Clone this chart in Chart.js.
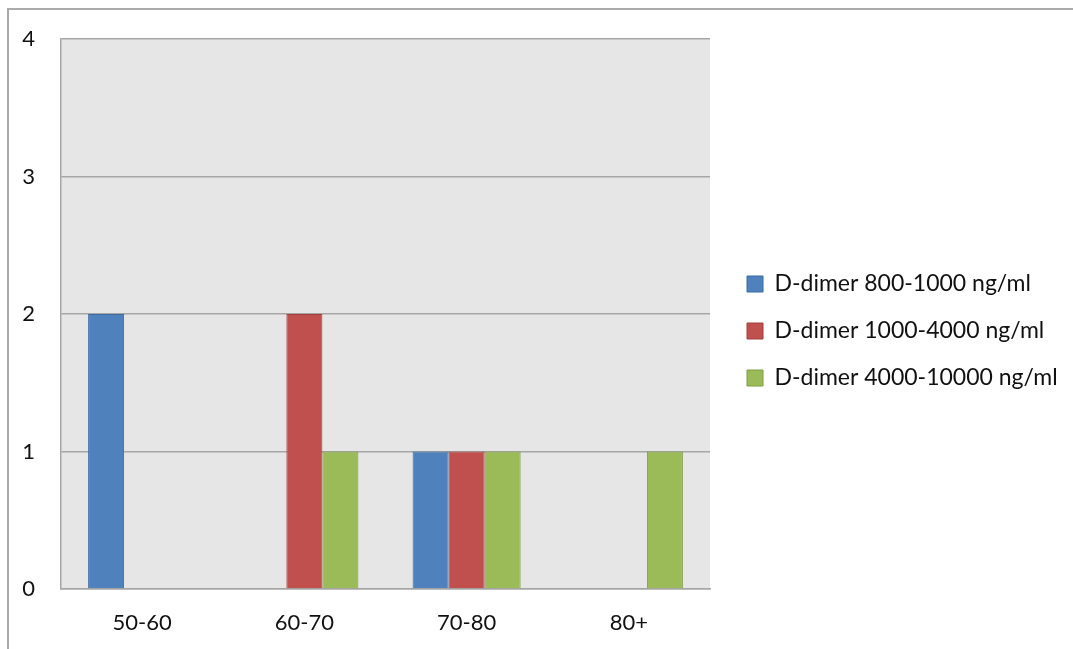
<!DOCTYPE html>
<html>
<head>
<meta charset="utf-8">
<script src="https://cdn.jsdelivr.net/npm/chart.js@4"></script>
<style>
  html, body { margin: 0; padding: 0; background: #ffffff; }
  #wrap { position: relative; width: 1073px; height: 649px; overflow: hidden; }
  #frame { position: absolute; left: 7px; top: 8px; width: 1200px; height: 800px;
           border-left: 2px solid #ababab; border-top: 2px solid #ababab; }
  #chart { position: absolute; left: 0; top: 0; }
</style>
</head>
<body>
<div id="wrap">
  <div id="frame"></div>
  <canvas id="chart" width="1073" height="649"></canvas>
</div>
<script>
// Age groups along the x axis
const ageGroups = ['50-60', '60-70', '70-80', '80+'];

// Legend names of the three D-dimer ranges
const seriesNames = [
  'D-dimer 800-1000 ng/ml',
  'D-dimer 1000-4000 ng/ml',
  'D-dimer 4000-10000 ng/ml'
];

// Counts per age group for each D-dimer range
const dimer800to1000 = [2, 0, 1, 0];
const dimer1000to4000 = [0, 2, 1, 0];
const dimer4000to10000 = [0, 1, 1, 1];

// Value axis ticks
const yTicks = [0, 1, 2, 3, 4];

const FONT = 'Lato, "Open Sans", "Liberation Sans", sans-serif';
const GRID = '#a6a6a6';

// Grey plot background behind the bars
const plotBackground = {
  id: 'plotBackground',
  beforeDraw(chart) {
    const { ctx, chartArea: a } = chart;
    ctx.save();
    ctx.fillStyle = '#e6e6e6';
    ctx.fillRect(a.left, a.top, a.right - a.left, a.bottom - a.top);
    ctx.restore();
  }
};

// Legend sits in a fixed-width column to the right of the plot
const LEGEND_WIDTH = 363;
const LEGEND_SHIFT_X = 13;
const LEGEND_SHIFT_Y = -12;
const legendColumn = {
  id: 'legendColumn',
  beforeLayout(chart) {
    const legend = chart.legend;
    if (legend && !legend._fixedWidth) {
      const fit = legend.fit;
      legend.fit = function () {
        fit.call(this);
        this.width = LEGEND_WIDTH;
      };
      legend._fixedWidth = true;
    }
  },
  afterLayout(chart) {
    const legend = chart.legend;
    legend.left += LEGEND_SHIFT_X;
    legend.right += LEGEND_SHIFT_X;
    legend.top += LEGEND_SHIFT_Y;
    legend.bottom += LEGEND_SHIFT_Y;
  }
};

new Chart(document.getElementById('chart'), {
  type: 'bar',
  data: {
    labels: ageGroups,
    datasets: [
      { label: seriesNames[0], data: dimer800to1000,
        backgroundColor: '#4f81bd', borderColor: '#3d6aa1', borderWidth: 1 },
      { label: seriesNames[1], data: dimer1000to4000,
        backgroundColor: '#c0504d', borderColor: '#a03f3c', borderWidth: 1 },
      { label: seriesNames[2], data: dimer4000to10000,
        backgroundColor: '#9bbb59', borderColor: '#7e9c45', borderWidth: 1 }
    ]
  },
  options: {
    responsive: false,
    animation: false,
    events: [],
    datasets: { bar: { categoryPercentage: 0.666, barPercentage: 1 } },
    layout: { padding: { top: 37, left: 0, right: 0, bottom: 0 } },
    plugins: {
      tooltip: { enabled: false },
      legend: {
        position: 'right',
        align: 'center',
        labels: {
          boxWidth: 16,
          boxHeight: 16,
          padding: 24,
          color: '#111111',
          font: { family: FONT, size: 23 }
        }
      }
    },
    scales: {
      x: {
        grid: { display: false, drawTicks: false },
        border: { display: true, color: GRID, width: 1.5 },
        ticks: { color: '#111111', padding: 21, font: { family: FONT, size: 22 } },
        afterFit(scale) { scale.height = 60; }
      },
      y: {
        min: 0,
        max: 4,
        afterBuildTicks(scale) { scale.ticks = yTicks.map(v => ({ value: v })); },
        grid: { color: GRID, lineWidth: 1.5, drawTicks: false },
        border: { display: true, color: GRID, width: 1.5 },
        ticks: { color: '#111111', padding: 26, font: { family: FONT, size: 22 } },
        afterFit(scale) { scale.width = 61; }
      }
    }
  },
  plugins: [plotBackground, legendColumn]
});
</script>
</body>
</html>
